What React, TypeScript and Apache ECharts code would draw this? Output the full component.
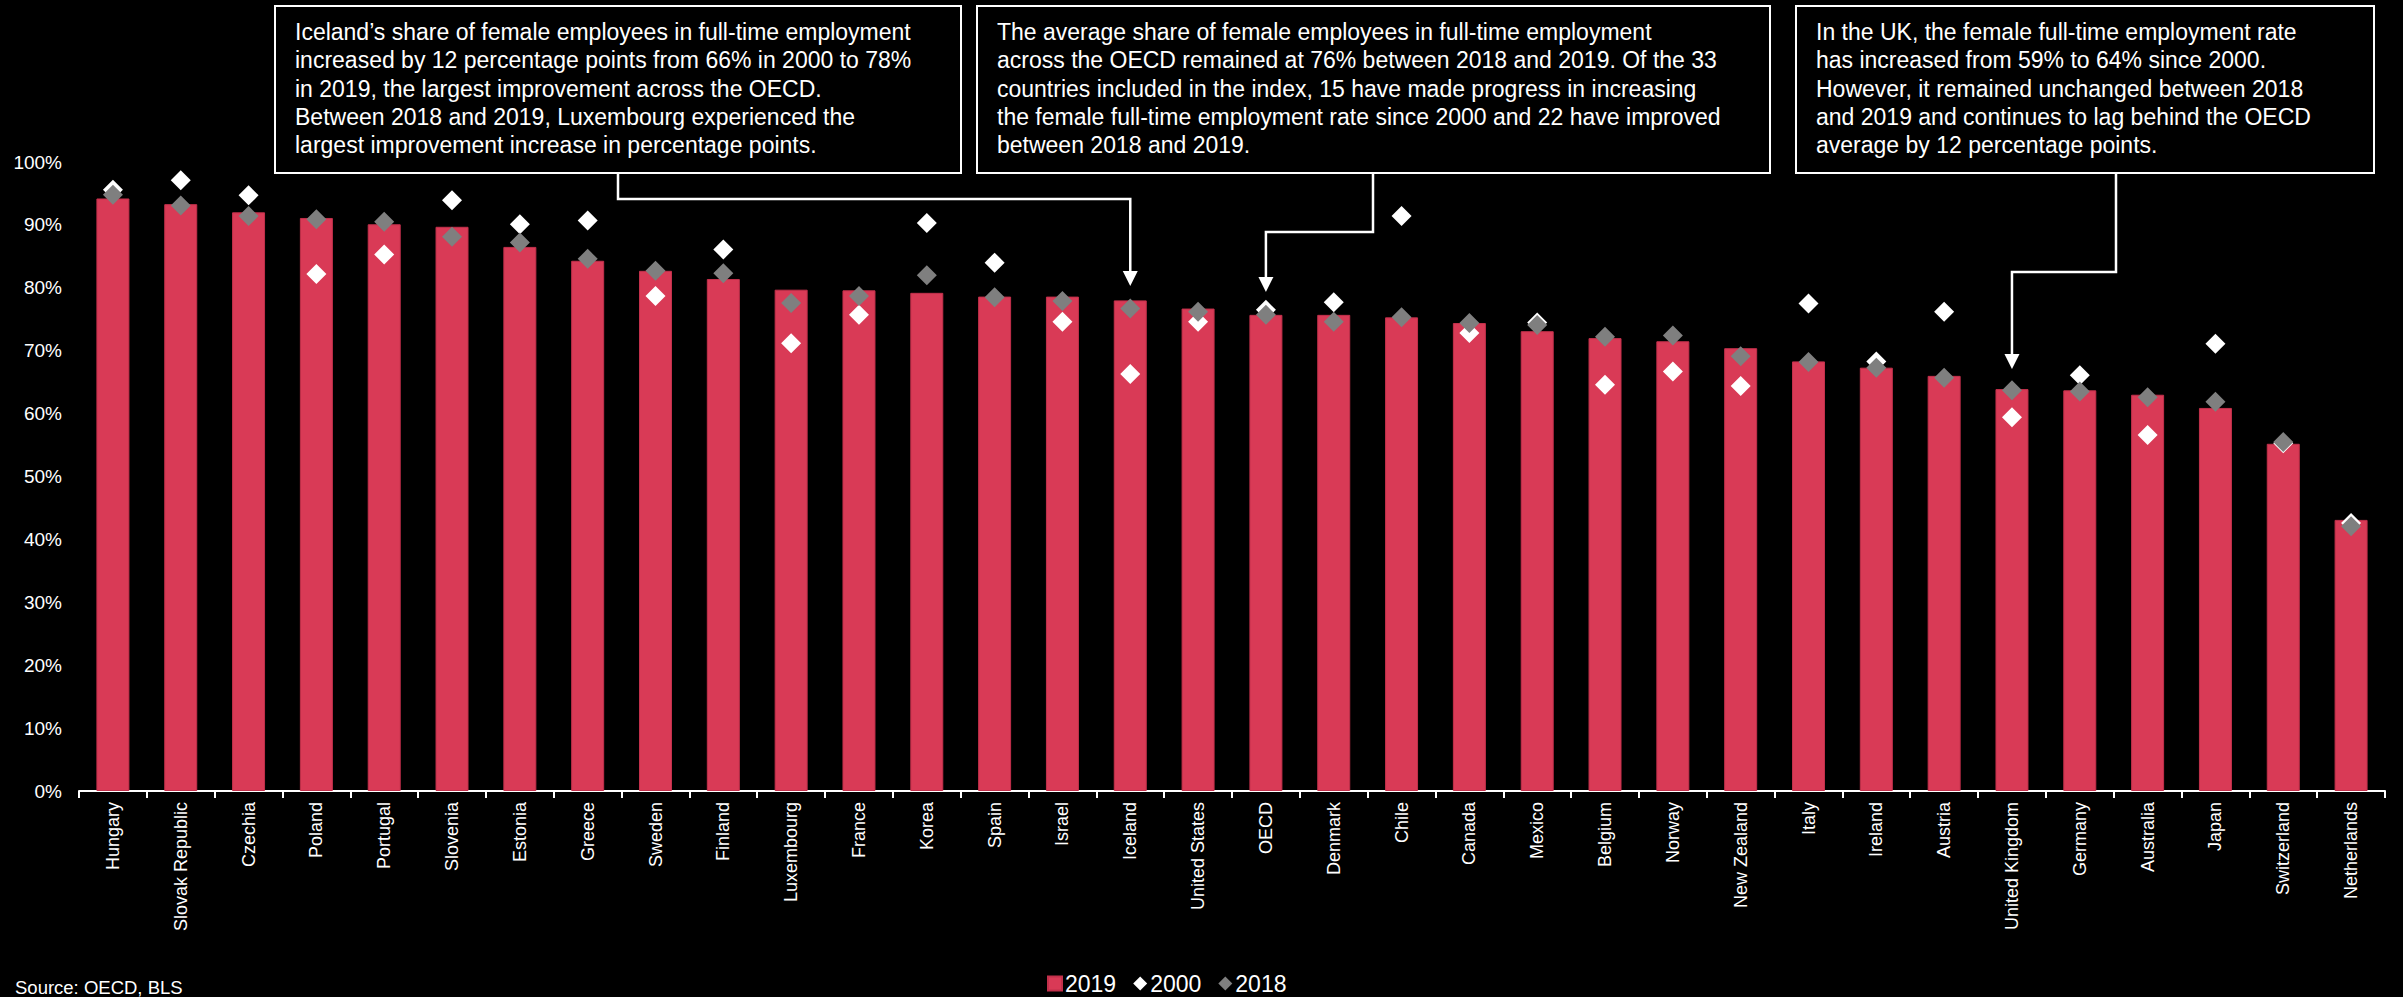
import React, { useEffect, useRef } from "react";
import * as echarts from "echarts";

const categories = [
  "Hungary", "Slovak Republic", "Czechia", "Poland", "Portugal", "Slovenia", "Estonia", "Greece",
  "Sweden", "Finland", "Luxembourg", "France", "Korea", "Spain", "Israel", "Iceland",
  "United States", "OECD", "Denmark", "Chile", "Canada", "Mexico", "Belgium", "Norway",
  "New Zealand", "Italy", "Ireland", "Austria", "United Kingdom", "Germany", "Australia", "Japan",
  "Switzerland", "Netherlands",
];
const values2019 = [
  94.2, 93.3, 92.0, 91.1, 90.1, 89.7, 86.5, 84.3, 82.7, 81.4, 79.7, 79.6, 79.2, 78.6, 78.6, 78.0,
  76.7, 75.7, 75.7, 75.3, 74.4, 73.1, 72.0, 71.5, 70.4, 68.3, 67.3, 66.0, 63.9, 63.7, 63.0, 60.9,
  55.2, 43.1,
];
const values2000 = [
  95.6, 97.1, 94.7, 82.2, 85.3, 93.9, 90.1, 90.7, 78.7, 86.1, 71.2, 75.7, 90.3, 84.0, 74.6, 66.3,
  74.6, 76.5, 77.7, 91.4, 72.8, 74.5, 64.6, 66.7, 64.4, 77.5, 68.3, 76.2, 59.4, 66.1, 56.6, 71.1,
  55.3, 42.6,
];
const values2018 = [
  94.8, 93.1, 91.4, 90.9, 90.5, 88.1, 87.2, 84.6, 82.7, 82.3, 77.6, 78.7, 82.0, 78.5, 77.9, 76.7,
  76.2, 75.7, 74.6, 75.3, 74.4, 74.1, 72.2, 72.4, 69.1, 68.2, 67.3, 65.7, 63.7, 63.5, 62.6, 61.9,
  55.5, 42.1,
];

const note1 = [
  "Iceland\u2019s share of female employees in full-time employment",
  "increased by 12 percentage points from 66% in 2000 to 78%",
  "in 2019, the largest improvement across the OECD.",
  "Between 2018 and 2019, Luxembourg experienced the",
  "largest improvement increase in percentage points.",
];
const note2 = [
  "The average share of female employees in full-time employment",
  "across the OECD remained at 76% between 2018 and 2019. Of the 33",
  "countries included in the index, 15 have made progress in increasing",
  "the female full-time employment rate since 2000 and 22 have improved",
  "between 2018 and 2019.",
];
const note3 = [
  "In the UK, the female full-time employment rate",
  "has increased from 59% to 64% since 2000.",
  "However, it remained unchanged between 2018",
  "and 2019 and continues to lag behind the OECD",
  "average by 12 percentage points.",
];

const FONT = "'Liberation Sans', Arial, sans-serif";
const RED = "#d93a56";
const GREY = "#7f7f7f";

export default function App() {
  const ref = useRef<HTMLDivElement>(null);

  useEffect(() => {
    document.body.style.margin = "0";
    document.body.style.background = "#000";
    const chart = echarts.init(ref.current!, null, { renderer: "svg" });
    chart.setOption({
      animation: false,
      backgroundColor: "#000",
      textStyle: { fontFamily: FONT },
      grid: { left: 79, right: 18, top: 162, bottom: 206, containLabel: false },
      legend: {
        data: [
          { name: "2019", icon: "rect" },
          { name: "2000", icon: "diamond" },
          { name: "2018", icon: "diamond" },
        ],
        left: 1047,
        top: 972,
        padding: 0,
        itemWidth: 14,
        itemHeight: 14,
        itemGap: 17,
        textStyle: {
          color: "#fff",
          fontSize: 23,
          lineHeight: 23,
          fontFamily: FONT,
          padding: [0, 0, 0, -2],
        },
      },
      xAxis: {
        type: "category",
        data: categories,
        boundaryGap: true,
        axisLine: { lineStyle: { color: "#fff", width: 2 } },
        axisTick: { show: true, length: 7, lineStyle: { color: "#fff", width: 2 } },
        axisLabel: {
          rotate: 90,
          interval: 0,
          color: "#fff",
          fontSize: 18,
          fontFamily: FONT,
          margin: 11,
        },
      },
      yAxis: {
        type: "value",
        min: 0,
        max: 100,
        interval: 10,
        axisLine: { show: false },
        axisTick: { show: false },
        splitLine: { show: false },
        axisLabel: { formatter: "{value}%", color: "#fff", fontSize: 19, fontFamily: FONT, margin: 17 },
      },
      series: [
        {
          name: "2019",
          type: "bar",
          data: values2019,
          barWidth: 33,
          itemStyle: { color: RED, borderColor: "#c2304b", borderWidth: 1 },
        },
        {
          name: "2000",
          type: "scatter",
          data: values2000,
          symbol: "diamond",
          symbolSize: 20,
          itemStyle: { color: "#fff", opacity: 1 },
        },
        {
          name: "2018",
          type: "scatter",
          data: values2018,
          symbol: "diamond",
          symbolSize: 20,
          itemStyle: { color: GREY, opacity: 1 },
        },
      ],
    });

    const cx = (name: string, fallback: number) => {
      const v = chart.convertToPixel({ xAxisIndex: 0 }, name);
      return typeof v === "number" && isFinite(v) ? v : fallback;
    };
    const xIce = cx("Iceland", 1130);
    const xOecd = cx("OECD", 1266);
    const xUk = cx("United Kingdom", 2012);

    const box = (x: number, w: number, lines: string[]) => [
      {
        type: "rect",
        shape: { x, y: 6, width: w, height: 167 },
        style: { fill: "#000", stroke: "#fff", lineWidth: 2 },
        z: 10,
      },
      {
        type: "text",
        x: x + 20,
        y: 18,
        z: 11,
        style: {
          text: lines.join("\n"),
          fill: "#fff",
          fontSize: 23,
          fontFamily: FONT,
          lineHeight: 28.3,
          verticalAlign: "top",
          align: "left",
        },
      },
    ];
    const connector = (pts: number[][], tipX: number, tipY: number) => [
      {
        type: "polyline",
        shape: { points: pts },
        style: { stroke: "#fff", lineWidth: 2.5, fill: null },
        z: 9,
      },
      {
        type: "polygon",
        shape: { points: [[tipX - 7.5, tipY - 15], [tipX + 7.5, tipY - 15], [tipX, tipY]] },
        style: { fill: "#fff" },
        z: 9,
      },
    ];

    chart.setOption({
      graphic: [
        ...box(275, 686, note1),
        ...box(977, 793, note2),
        ...box(1796, 578, note3),
        ...connector([[618, 173], [618, 199], [xIce, 199], [xIce, 272]], xIce, 286),
        ...connector([[1373, 173], [1373, 232], [xOecd, 232], [xOecd, 278]], xOecd, 292),
        ...connector([[2116, 173], [2116, 272], [xUk, 272], [xUk, 355]], xUk, 369),
        {
          type: "text",
          x: 15,
          y: 987,
          style: {
            text: "Source: OECD, BLS",
            fill: "#fff",
            fontSize: 18.5,
            fontFamily: FONT,
            verticalAlign: "middle",
          },
        },
      ],
    });

    return () => chart.dispose();
  }, []);

  return (
    <div
      ref={ref}
      style={{ position: "fixed", left: 0, top: 0, width: 2403, height: 997, background: "#000" }}
    />
  );
}
